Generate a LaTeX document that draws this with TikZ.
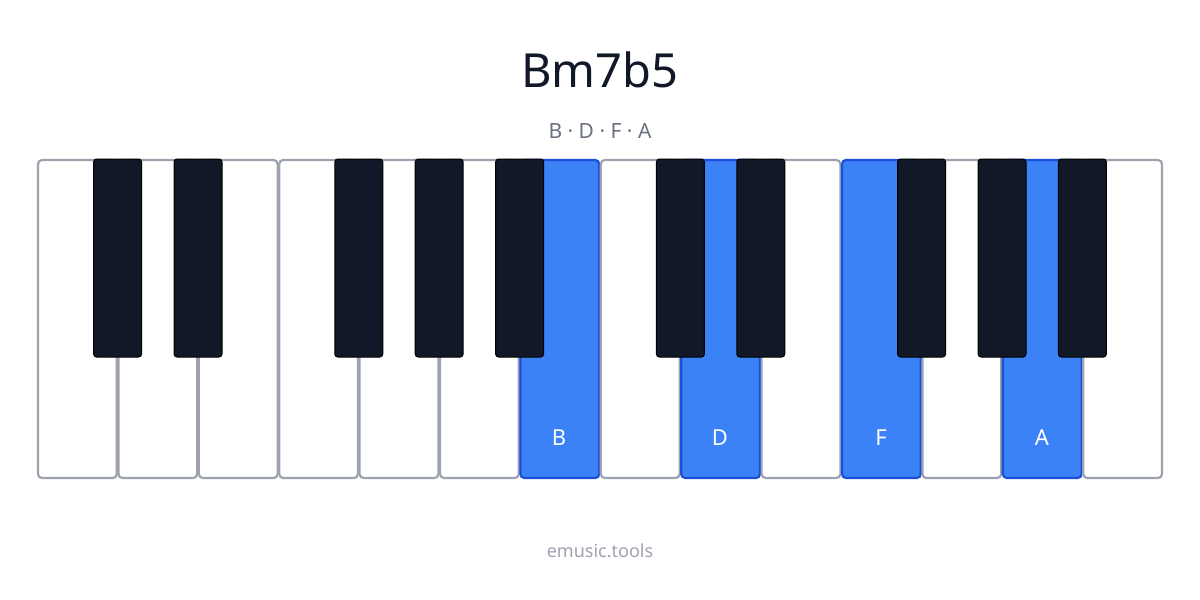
\documentclass[tikz,border=0pt]{standalone}
\usepackage{fontspec}
\setmainfont{Noto Sans}
\definecolor{wkb}{HTML}{9CA3AF}
\definecolor{blk}{HTML}{111827}
\definecolor{hi}{HTML}{3B82F6}
\definecolor{hib}{HTML}{1D4ED8}
\definecolor{sub}{HTML}{6B7280}
\begin{document}
\begin{tikzpicture}[x=1pt,y=-1pt,
  white/.style={draw=wkb,line width=2.2pt,fill=white,rounded corners=4pt},
  hlkey/.style={draw=hib,line width=2.2pt,fill=hi,rounded corners=4pt},
  black/.style={draw=black,line width=1pt,fill=blk,rounded corners=3pt},
  lbl/.style={text=white,font=\fontsize{22}{26}\selectfont}]
\useasboundingbox (0,0) rectangle (1200,600);
\node[text=blk,font=\fontsize{47}{54}\selectfont] (title) at (600,70) {Bm7b5};
\node[text=sub,font=\fontsize{21}{24}\selectfont] (notes) at (600,131) {B · D · F · A};
\node[text=wkb,font=\fontsize{18}{22}\selectfont] (foot) at (600,551) {emusic.tools};
\foreach \i in {0,...,13}{
  \pgfmathsetmacro\xa{38+\i*80.4}
  \ifnum\i=6 \def\st{hlkey}\else\ifnum\i=8 \def\st{hlkey}\else\ifnum\i=10 \def\st{hlkey}\else\ifnum\i=12 \def\st{hlkey}\else\def\st{white}\fi\fi\fi\fi
  \draw[\st] (\xa,160) rectangle ++(78.8,318);
}
\foreach \b in {1,2,4,5,6,8,9,11,12,13}{
  \pgfmathsetmacro\xb{38+\b*80.4-0.8-24}
  \draw[black] (\xb,159) rectangle ++(48,198);
}
\node[lbl] (kB) at (559,438) {B};
\node[lbl] (kD) at (720,438) {D};
\node[lbl] (kF) at (881,438) {F};
\node[lbl] (kA) at (1042,438) {A};
\end{tikzpicture}
\end{document}
